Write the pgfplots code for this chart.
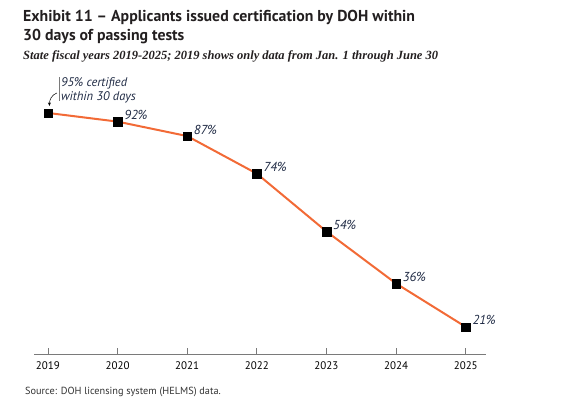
\documentclass[border=0pt]{standalone}
\usepackage{fontspec}
\setmainfont{PT Sans}
\newfontfamily\subtitlefont{Liberation Serif}
\usepackage{pgfplots}
\usepackage{pgfplotstable}
\pgfplotsset{compat=1.18}
\usetikzlibrary{arrows.meta}

\definecolor{lineorange}{HTML}{F26A36}
\definecolor{labelink}{HTML}{1F2A44}
\definecolor{axisgray}{HTML}{7A7A7A}
\definecolor{titleink}{HTML}{231F20}
\definecolor{sourceink}{HTML}{333333}

% Share of applicants certified within 30 days, by state fiscal year
\pgfplotstableread{
year pct
2019 95
2020 92
2021 87
2022 74
2023 54
2024 36
2025 21
}\certdata

\begin{document}
\begin{tikzpicture}
\path[use as bounding box] (0pt,0pt) rectangle (563pt,411pt);

% Title block
\node[anchor=base west, inner sep=0, text=titleink, font=\fontsize{15.8}{18}\selectfont\bfseries]
  at (23pt,389pt) {Exhibit 11 – Applicants issued certification by DOH within};
\node[anchor=base west, inner sep=0, text=titleink, font=\fontsize{15.8}{18}\selectfont\bfseries]
  at (23pt,370pt) {30 days of passing tests};
\node[anchor=base west, inner sep=0, text=titleink, font=\subtitlefont\fontsize{12.5}{14}\selectfont\bfseries\itshape]
  at (23pt,351pt) {State fiscal years 2019-2025; 2019 shows only data from Jan. 1 through June 30};

\begin{axis}[
  at={(34pt,56pt)}, anchor=south west,
  scale only axis, width=452pt, height=256.5pt,
  xmin=2018.8, xmax=2025.29, ymin=11.3, ymax=100,
  axis x line*=bottom, axis y line=none,
  xtick={2019,...,2025}, ytick=\empty,
  tick align=inside, major tick length=7pt,
  axis line style={axisgray, line width=1pt},
  tick style={axisgray, line width=0.8pt},
  /pgf/number format/assume math mode=true,
  x tick label style={font=\fontsize{11}{13}\selectfont, text=black,
    /pgf/number format/1000 sep={}, yshift=-3pt},
  clip=false,
]
\addplot[lineorange, line width=2pt, mark=square*, mark size=4.2pt,
  mark options={fill=black, draw=black, line width=0.4pt}]
  table[x=year, y=pct] {\certdata};

% value labels for 2020 onward
\addplot[draw=none, mark=none, restrict x to domain=2019.5:2026,
  nodes near coords={\pgfmathprintnumber{\pgfplotspointmeta}\%},
  point meta=y,
  nodes near coords style={anchor=base west, inner sep=0pt, xshift=6.5pt, yshift=2pt,
    text=labelink, font=\fontsize{13}{15}\selectfont\itshape}]
  table[x=year, y=pct] {\certdata};

% call-out for the first year
\coordinate (first) at (axis cs:2019,95);
\end{axis}

\draw[axisgray, line width=0.6pt] ([xshift=11pt,yshift=12pt]first) -- ++(0pt,24pt);
\node[anchor=base west, inner sep=0, text=labelink, font=\fontsize{12.5}{15}\selectfont\itshape]
  at ([xshift=13pt,yshift=26pt]first) {95\% certified};
\node[anchor=base west, inner sep=0, text=labelink, font=\fontsize{12.5}{15}\selectfont\itshape]
  at ([xshift=13pt,yshift=12pt]first) {within 30 days};
\draw[-{Stealth[length=3.5pt,width=3pt]}, black, line width=0.5pt]
  ([xshift=9pt,yshift=20pt]first) to[out=200,in=90] ([xshift=1.5pt,yshift=7pt]first);

% Source line
\node[anchor=base west, inner sep=0, text=sourceink, font=\fontsize{10.3}{12}\selectfont]
  at (25pt,16pt) {Source: DOH licensing system (HELMS) data.};
\end{tikzpicture}
\end{document}
